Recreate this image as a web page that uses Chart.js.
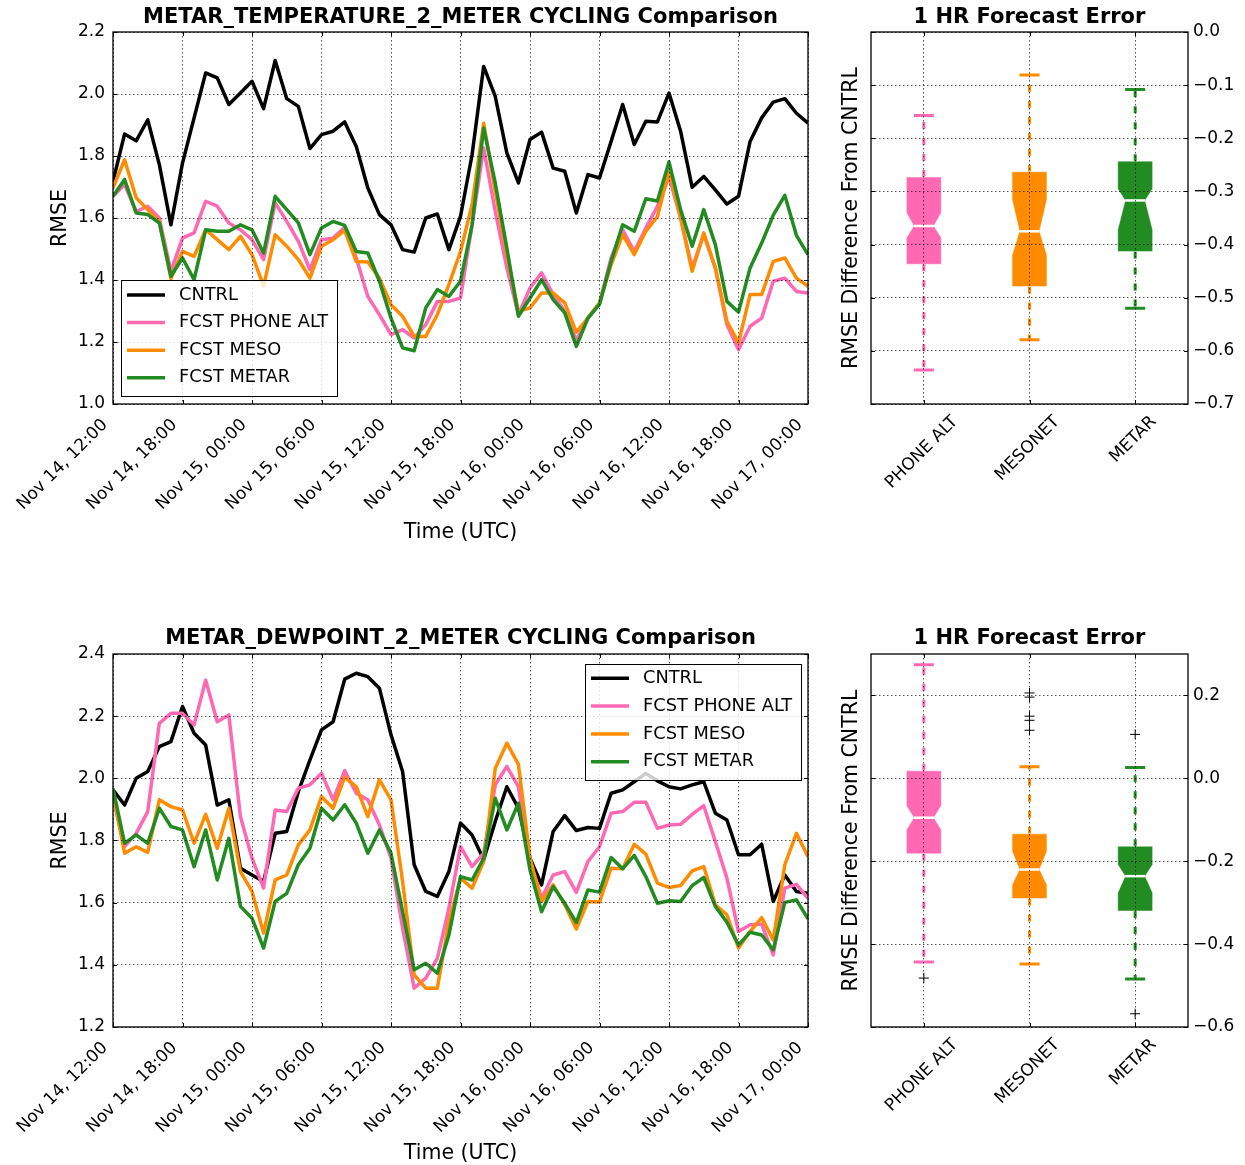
<!DOCTYPE html>
<html>
<head>
<meta charset="utf-8">
<title>METAR 2 m cycling comparison</title>
<script src="https://cdn.jsdelivr.net/npm/chart.js@4.4.1/dist/chart.umd.min.js"></script>
<style>
  html, body { margin: 0; padding: 0; background: #fff; }
  #page { position: relative; width: 1245px; height: 1165px; background: #fff; overflow: hidden; }
  canvas { position: absolute; }
</style>
</head>
<body>
<div id="page">
  <canvas id="tempLine" width="840" height="560" style="left:0;top:0"></canvas>
  <canvas id="tempBox" width="415" height="560" style="left:830px;top:0"></canvas>
  <canvas id="dewLine" width="840" height="550" style="left:0;top:620px"></canvas>
  <canvas id="dewBox" width="415" height="545" style="left:830px;top:620px"></canvas>
</div>
<script>
// ---------------------------------------------------------------------------
// Data
// ---------------------------------------------------------------------------
// Hours after Nov 14, 12:00 UTC (one analysis cycle per hour)
const hours = [
   0,  1,  2,  3,  4,  5,  6,  7,  8,  9,
  10, 11, 12, 13, 14, 15, 16, 17, 18, 19,
  20, 21, 22, 23, 24, 25, 26, 27, 28, 29,
  30, 31, 32, 33, 34, 35, 36, 37, 38, 39,
  40, 41, 42, 43, 44, 45, 46, 47, 48, 49,
  50, 51, 52, 53, 54, 55, 56, 57, 58, 59,
  60
];
const timeTicks = [0, 6, 12, 18, 24, 30, 36, 42, 48, 54, 60];
const timeTickLabels = [
  'Nov 14, 12:00', 'Nov 14, 18:00', 'Nov 15, 00:00', 'Nov 15, 06:00',
  'Nov 15, 12:00', 'Nov 15, 18:00', 'Nov 16, 00:00', 'Nov 16, 06:00',
  'Nov 16, 12:00', 'Nov 16, 18:00', 'Nov 17, 00:00'
];
const seriesNames = ['CNTRL', 'FCST PHONE ALT', 'FCST MESO', 'FCST METAR'];

// 2 m temperature RMSE
const tempCntrl = [
  1.718, 1.871, 1.849, 1.917, 1.772, 1.578, 1.777, 1.923, 2.068, 2.052,
  1.966, 2.003, 2.041, 1.953, 2.108, 1.985, 1.960, 1.824, 1.869, 1.880,
  1.910, 1.831, 1.697, 1.611, 1.578, 1.498, 1.490, 1.600, 1.613, 1.498,
  1.605, 1.804, 2.089, 1.992, 1.810, 1.713, 1.853, 1.877, 1.761, 1.751,
  1.616, 1.740, 1.729, 1.847, 1.966, 1.837, 1.912, 1.910, 2.003, 1.880,
  1.699, 1.734, 1.691, 1.645, 1.670, 1.847, 1.923, 1.974, 1.985, 1.938,
  1.906
];
const tempPhoneAlt = [
  1.670, 1.708, 1.621, 1.638, 1.600, 1.428, 1.535, 1.552, 1.654, 1.638,
  1.584, 1.562, 1.530, 1.466, 1.649, 1.589, 1.525, 1.433, 1.530, 1.535,
  1.570, 1.471, 1.347, 1.288, 1.224, 1.240, 1.213, 1.256, 1.331, 1.331,
  1.342, 1.578, 1.826, 1.621, 1.439, 1.288, 1.374, 1.423, 1.353, 1.299,
  1.206, 1.277, 1.326, 1.471, 1.562, 1.492, 1.568, 1.638, 1.734, 1.600,
  1.439, 1.546, 1.439, 1.256, 1.175, 1.251, 1.277, 1.396, 1.406, 1.363,
  1.358
];
const tempMeso = [
  1.697, 1.788, 1.665, 1.627, 1.589, 1.405, 1.492, 1.476, 1.562, 1.530,
  1.498, 1.541, 1.482, 1.380, 1.546, 1.509, 1.466, 1.406, 1.509, 1.530,
  1.560, 1.460, 1.458, 1.406, 1.320, 1.283, 1.218, 1.218, 1.288, 1.385,
  1.492, 1.643, 1.906, 1.686, 1.482, 1.299, 1.310, 1.358, 1.358, 1.326,
  1.232, 1.277, 1.326, 1.449, 1.546, 1.482, 1.557, 1.605, 1.751, 1.600,
  1.428, 1.552, 1.439, 1.267, 1.197, 1.353, 1.353, 1.460, 1.471, 1.406,
  1.380
];
const tempMetar = [
  1.670, 1.724, 1.616, 1.611, 1.584, 1.412, 1.471, 1.401, 1.562, 1.557,
  1.557, 1.578, 1.562, 1.487, 1.670, 1.627, 1.584, 1.482, 1.568, 1.589,
  1.576, 1.492, 1.487, 1.396, 1.277, 1.181, 1.172, 1.310, 1.369, 1.347,
  1.396, 1.578, 1.890, 1.713, 1.503, 1.283, 1.342, 1.401, 1.337, 1.294,
  1.186, 1.277, 1.321, 1.460, 1.578, 1.557, 1.662, 1.655, 1.781, 1.627,
  1.509, 1.627, 1.514, 1.331, 1.297, 1.439, 1.519, 1.609, 1.673, 1.544,
  1.482
];

// 2 m dewpoint RMSE
const dewCntrl = [
  1.963, 1.914, 2.000, 2.022, 2.102, 2.118, 2.231, 2.145, 2.107, 1.914,
  1.931, 1.711, 1.689, 1.668, 1.823, 1.829, 1.957, 2.059, 2.156, 2.182,
  2.319, 2.338, 2.327, 2.290, 2.140, 2.022, 1.722, 1.636, 1.620, 1.700,
  1.856, 1.818, 1.738, 1.861, 1.973, 1.904, 1.743, 1.657, 1.829, 1.880,
  1.832, 1.842, 1.839, 1.952, 1.963, 1.989, 2.016, 1.992, 1.973, 1.966,
  1.979, 1.989, 1.888, 1.866, 1.754, 1.754, 1.788, 1.604, 1.689, 1.636,
  1.630
];
const dewPhoneAlt = [
  1.936, 1.780, 1.823, 1.893, 2.177, 2.209, 2.209, 2.172, 2.316, 2.182,
  2.204, 1.877, 1.743, 1.647, 1.898, 1.893, 1.968, 1.979, 2.016, 1.931,
  2.025, 1.952, 1.931, 1.850, 1.743, 1.518, 1.325, 1.357, 1.421, 1.582,
  1.780, 1.716, 1.759, 1.979, 2.038, 1.973, 1.732, 1.614, 1.689, 1.700,
  1.633, 1.732, 1.780, 1.888, 1.893, 1.923, 1.923, 1.839, 1.850, 1.852,
  1.884, 1.912, 1.797, 1.679, 1.507, 1.529, 1.531, 1.432, 1.647, 1.659,
  1.614
];
const dewMeso = [
  1.952, 1.759, 1.780, 1.762, 1.931, 1.909, 1.898, 1.791, 1.884, 1.775,
  1.904, 1.700, 1.636, 1.502, 1.673, 1.689, 1.786, 1.834, 1.941, 1.904,
  2.004, 1.973, 1.877, 1.995, 1.931, 1.668, 1.368, 1.325, 1.325, 1.539,
  1.679, 1.647, 1.732, 2.032, 2.113, 2.045, 1.743, 1.604, 1.657, 1.593,
  1.515, 1.604, 1.602, 1.711, 1.709, 1.788, 1.756, 1.663, 1.649, 1.655,
  1.702, 1.716, 1.593, 1.561, 1.454, 1.507, 1.552, 1.480, 1.722, 1.823,
  1.748
];
const dewMetar = [
  1.968, 1.791, 1.818, 1.791, 1.904, 1.845, 1.834, 1.716, 1.834, 1.673,
  1.807, 1.588, 1.550, 1.454, 1.604, 1.630, 1.722, 1.775, 1.904, 1.866,
  1.915, 1.856, 1.759, 1.834, 1.759, 1.571, 1.384, 1.405, 1.373, 1.496,
  1.684, 1.673, 1.743, 1.936, 1.834, 1.920, 1.705, 1.571, 1.652, 1.598,
  1.536, 1.641, 1.634, 1.745, 1.709, 1.752, 1.684, 1.598, 1.606, 1.604,
  1.655, 1.681, 1.588, 1.537, 1.464, 1.505, 1.496, 1.448, 1.601, 1.609,
  1.548
];

const tempRmseTicks = [1.0, 1.2, 1.4, 1.6, 1.8, 2.0, 2.2];
const dewRmseTicks = [1.2, 1.4, 1.6, 1.8, 2.0, 2.2, 2.4];

// 1 h forecast RMSE difference from CNTRL, summarised per observation network
const boxCategories = ['PHONE ALT', 'MESONET', 'METAR'];

const tempWhiskerLow  = [-0.636, -0.579, -0.520];
const tempQ1          = [-0.437, -0.479, -0.413];
const tempNotchLow    = [-0.387, -0.420, -0.372];
const tempMedian      = [-0.365, -0.375, -0.317];
const tempNotchHigh   = [-0.340, -0.315, -0.295];
const tempQ3          = [-0.273, -0.263, -0.243];
const tempWhiskerHigh = [-0.157, -0.081, -0.108];
const tempOutliers    = [[], [], []];

const dewWhiskerLow  = [-0.443, -0.448, -0.484];
const dewQ1          = [-0.182, -0.290, -0.320];
const dewNotchLow    = [-0.124, -0.257, -0.276];
const dewMedian      = [-0.095, -0.220, -0.236];
const dewNotchHigh   = [-0.066, -0.176, -0.208];
const dewQ3          = [ 0.018, -0.134, -0.164];
const dewWhiskerHigh = [ 0.274,  0.028,  0.026];
const dewOutliers    = [[-0.482], [0.206, 0.196, 0.150, 0.140, 0.116], [0.106, -0.568]];

const tempDiffTicks = [-0.7, -0.6, -0.5, -0.4, -0.3, -0.2, -0.1, 0.0];
const dewDiffTicks = [-0.6, -0.4, -0.2, 0.0, 0.2];

// ---------------------------------------------------------------------------
// Styling
// ---------------------------------------------------------------------------
const FONT = "'DejaVu Sans', 'Liberation Sans', sans-serif";
const seriesColors = ['#000000', '#ff69b4', '#ff8c00', '#228b22'];
const boxColors = ['#ff69b4', '#ff8c00', '#228b22'];

Chart.defaults.font.family = FONT;
Chart.defaults.font.size = 17;
Chart.defaults.color = '#000';

const gridStyle = { color: 'rgba(0,0,0,0.65)', lineWidth: 1, drawTicks: false, z: 1 };
const gridBorder = { display: false, dash: [1.5, 2.5] };
const signed = v => (v < 0 && Math.abs(v) > 1e-9 ? '\u2212' : '') + Math.abs(v).toFixed(1);

// ---------------------------------------------------------------------------
// Plugins
// ---------------------------------------------------------------------------
// Closed axes frame with short inward tick marks on all four sides
const axesFrame = {
  id: 'axesFrame',
  afterDraw(chart, args, opts) {
    const { ctx, chartArea: a } = chart;
    const xs = chart.scales.x, ys = chart.scales.y;
    const len = opts.tickLength || 4;
    ctx.save();
    ctx.strokeStyle = '#000';
    ctx.lineWidth = 1;
    ctx.beginPath();
    xs.ticks.forEach(t => {
      const p = Math.round(xs.getPixelForValue(t.value)) + 0.5;
      ctx.moveTo(p, a.bottom); ctx.lineTo(p, a.bottom - len);
      ctx.moveTo(p, a.top); ctx.lineTo(p, a.top + len);
    });
    ys.ticks.forEach(t => {
      const p = Math.round(ys.getPixelForValue(t.value)) + 0.5;
      ctx.moveTo(a.left, p); ctx.lineTo(a.left + len, p);
      ctx.moveTo(a.right, p); ctx.lineTo(a.right - len, p);
    });
    ctx.stroke();
    ctx.lineWidth = 1.3;
    ctx.strokeRect(a.left, a.top, a.right - a.left, a.bottom - a.top);
    ctx.restore();
  }
};

// Legend box drawn inside the plotting area
const insetLegend = {
  id: 'insetLegend',
  afterDraw(chart, args, o) {
    if (!o || !o.display) return;
    const { ctx, chartArea: a } = chart;
    const left = o.anchor === 'bottom-left' ? a.left + o.offsetX : a.right - o.offsetX - o.width;
    const top = o.anchor === 'bottom-left' ? a.bottom - o.offsetY - o.height : a.top + o.offsetY;
    ctx.save();
    ctx.fillStyle = 'rgba(255,255,255,0.8)';
    ctx.fillRect(left, top, o.width, o.height);
    ctx.strokeStyle = '#000';
    ctx.lineWidth = 1;
    ctx.strokeRect(Math.round(left) + 0.5, Math.round(top) + 0.5, o.width, o.height);
    ctx.font = o.fontSize + 'px ' + FONT;
    ctx.textAlign = 'left';
    ctx.textBaseline = 'middle';
    chart.data.datasets.forEach((ds, i) => {
      const y = top + o.firstRow + i * o.rowGap;
      ctx.strokeStyle = ds.borderColor;
      ctx.lineWidth = ds.borderWidth;
      ctx.beginPath();
      ctx.moveTo(left + o.lineStart, y);
      ctx.lineTo(left + o.lineEnd, y);
      ctx.stroke();
      ctx.fillStyle = '#000';
      ctx.fillText(ds.label, left + o.textStart, y);
    });
    ctx.restore();
  }
};

// Notched box-and-whisker glyphs placed on the chart's own x / y scales
const notchedBoxes = {
  id: 'notchedBoxes',
  afterDatasetsDraw(chart, args, o) {
    const { ctx, chartArea: a } = chart;
    const xs = chart.scales.x, ys = chart.scales.y;
    const s = o.stats;
    const Y = v => ys.getPixelForValue(v);
    ctx.save();
    ctx.beginPath();
    ctx.rect(a.left, a.top, a.right - a.left, a.bottom - a.top);
    ctx.clip();
    s.median.forEach((med, i) => {
      const pos = i + 1;
      const cx = xs.getPixelForValue(pos);
      const half = xs.getPixelForValue(pos + o.boxWidth / 2) - cx;
      const capHalf = xs.getPixelForValue(pos + o.capWidth / 2) - cx;
      const color = o.colors[i];

      // whiskers
      ctx.strokeStyle = color;
      ctx.lineWidth = o.whiskerWidth;
      ctx.setLineDash(o.whiskerDash);
      ctx.beginPath();
      ctx.moveTo(cx, Y(s.q3[i])); ctx.lineTo(cx, Y(s.whiskerHigh[i]));
      ctx.moveTo(cx, Y(s.q1[i])); ctx.lineTo(cx, Y(s.whiskerLow[i]));
      ctx.stroke();
      ctx.setLineDash([]);

      // caps
      ctx.beginPath();
      ctx.moveTo(cx - capHalf, Y(s.whiskerHigh[i])); ctx.lineTo(cx + capHalf, Y(s.whiskerHigh[i]));
      ctx.moveTo(cx - capHalf, Y(s.whiskerLow[i])); ctx.lineTo(cx + capHalf, Y(s.whiskerLow[i]));
      ctx.stroke();

      // notched box
      ctx.beginPath();
      ctx.moveTo(cx - half, Y(s.q1[i]));
      ctx.lineTo(cx + half, Y(s.q1[i]));
      ctx.lineTo(cx + half, Y(s.notchLow[i]));
      ctx.lineTo(cx + capHalf, Y(med));
      ctx.lineTo(cx + half, Y(s.notchHigh[i]));
      ctx.lineTo(cx + half, Y(s.q3[i]));
      ctx.lineTo(cx - half, Y(s.q3[i]));
      ctx.lineTo(cx - half, Y(s.notchHigh[i]));
      ctx.lineTo(cx - capHalf, Y(med));
      ctx.lineTo(cx - half, Y(s.notchLow[i]));
      ctx.closePath();
      ctx.fillStyle = color;
      ctx.fill();
      ctx.strokeStyle = 'rgba(255,255,255,0.45)';
      ctx.lineWidth = 1;
      ctx.stroke();

      // median
      ctx.strokeStyle = '#ffffff';
      ctx.lineWidth = o.medianWidth;
      ctx.beginPath();
      ctx.moveTo(cx - capHalf, Y(med));
      ctx.lineTo(cx + capHalf, Y(med));
      ctx.stroke();
    });
    ctx.restore();
  }
};

// Category names under the box plots, slanted 45 degrees and centred on their tick
const slantedCategoryLabels = {
  id: 'slantedCategoryLabels',
  afterDraw(chart, args, o) {
    const { ctx, chartArea: a } = chart;
    const xs = chart.scales.x;
    const r = Math.PI / 4;
    ctx.save();
    ctx.font = o.fontSize + 'px ' + FONT;
    ctx.fillStyle = '#000';
    ctx.textAlign = 'center';
    ctx.textBaseline = 'middle';
    chart.data.labels.forEach((label, i) => {
      const w = ctx.measureText(label).width;
      const extent = (w + o.fontSize) * Math.sin(r);
      const cx = xs.getPixelForValue(i + 1) + o.shiftX;
      const cy = a.bottom + o.padding + extent / 2;
      ctx.save();
      ctx.translate(cx, cy);
      ctx.rotate(-r);
      ctx.fillText(label, 0, 0);
      ctx.restore();
    });
    ctx.restore();
  }
};

// ---------------------------------------------------------------------------
// Chart builders
// ---------------------------------------------------------------------------
function lineChart(id, titleText, series, yTicks, layout, legend) {
  const datasets = series.map((values, i) => ({
    label: seriesNames[i],
    data: hours.map((h, k) => ({ x: h, y: values[k] })),
    borderColor: seriesColors[i],
    backgroundColor: seriesColors[i],
    borderWidth: 3.5,
    borderJoinStyle: 'round',
    pointRadius: 0,
    tension: 0,
    fill: false,
    order: series.length - 1 - i,
    xAxisID: 'x',
    yAxisID: 'y'
  }));
  return new Chart(document.getElementById(id), {
    type: 'line',
    data: { datasets },
    options: {
      responsive: false,
      animation: false,
      devicePixelRatio: 1,
      events: [],
      layout: { padding: 0 },
      plugins: {
        legend: { display: false },
        tooltip: { enabled: false },
        title: {
          display: true, text: titleText, fullSize: false, color: '#000',
          font: { size: 21, weight: 'bold' },
          padding: layout.titlePadding
        },
        insetLegend: legend,
        axesFrame: { tickLength: 4 }
      },
      scales: {
        x: {
          type: 'linear', min: timeTicks[0], max: timeTicks[timeTicks.length - 1],
          afterBuildTicks: s => { s.ticks = timeTicks.map(v => ({ value: v })); },
          ticks: {
            autoSkip: false, minRotation: 45, maxRotation: 45, padding: 11,
            labelOffset: layout.tickShift,
            font: { size: 17 }, color: '#000',
            callback: (v, i) => timeTickLabels[i]
          },
          grid: gridStyle, border: gridBorder,
          title: {
            display: true, text: 'Time (UTC)', color: '#000',
            font: { size: 20.5 }, padding: { top: 0, bottom: layout.xTitleBottom }
          },
          afterFit: s => { s.height = layout.xHeight; }
        },
        y: {
          type: 'linear', position: 'left',
          min: yTicks[0], max: yTicks[yTicks.length - 1],
          afterBuildTicks: s => { s.ticks = yTicks.map(v => ({ value: v })); },
          ticks: { padding: 8, font: { size: 17 }, color: '#000', callback: v => v.toFixed(1) },
          grid: gridStyle, border: gridBorder,
          title: {
            display: true, text: 'RMSE', color: '#000',
            font: { size: 20.5 }, padding: { top: 48.5, bottom: 0 }
          },
          afterFit: s => { s.width = 113; }
        },
        rightGap: {
          type: 'linear', position: 'right', display: true,
          grid: { display: false }, ticks: { display: false }, border: { display: false },
          afterFit: s => { s.width = layout.rightGap; }
        }
      }
    },
    plugins: [axesFrame, insetLegend]
  });
}

function boxChart(id, stats, outliers, yTicks, yMax, layout) {
  const outlierPoints = [];
  outliers.forEach((list, i) => list.forEach(v => outlierPoints.push({ x: i + 1, y: v })));
  return new Chart(document.getElementById(id), {
    type: 'scatter',
    data: {
      labels: boxCategories,
      datasets: [{
        label: 'outliers', data: outlierPoints,
        pointStyle: 'cross', pointRadius: 5, borderWidth: 1,
        borderColor: '#000', backgroundColor: '#000',
        xAxisID: 'x', yAxisID: 'y'
      }]
    },
    options: {
      responsive: false,
      animation: false,
      devicePixelRatio: 1,
      events: [],
      layout: { padding: 0 },
      plugins: {
        legend: { display: false },
        tooltip: { enabled: false },
        title: {
          display: true, text: '1 HR Forecast Error', fullSize: false, color: '#000',
          font: { size: 21, weight: 'bold' },
          padding: layout.titlePadding
        },
        notchedBoxes: {
          stats, colors: boxColors, boxWidth: 0.33, capWidth: 0.19,
          whiskerWidth: 3, whiskerDash: [7, 9], medianWidth: 2.5
        },
        slantedCategoryLabels: { fontSize: 17, padding: 9, shiftX: -2 },
        axesFrame: { tickLength: 4 }
      },
      scales: {
        x: {
          type: 'linear', min: 0.5, max: boxCategories.length + 0.5,
          afterBuildTicks: s => { s.ticks = boxCategories.map((c, i) => ({ value: i + 1 })); },
          ticks: { display: false },
          grid: gridStyle, border: gridBorder,
          afterFit: s => { s.height = layout.xHeight; }
        },
        y: {
          type: 'linear', position: 'right',
          min: yTicks[0], max: yMax,
          afterBuildTicks: s => { s.ticks = yTicks.map(v => ({ value: v })); },
          ticks: { padding: 5, font: { size: 17 }, color: '#000', callback: signed },
          grid: gridStyle, border: gridBorder,
          afterFit: s => { s.width = 57; }
        },
        yTitle: {
          type: 'linear', position: 'left', display: true,
          grid: { display: false }, ticks: { display: false }, border: { display: false },
          title: {
            display: true, text: 'RMSE Difference From CNTRL', color: '#000',
            font: { size: 20.5 }, padding: { top: 9.5, bottom: 0 }
          },
          afterFit: s => { s.width = 41; }
        }
      }
    },
    plugins: [notchedBoxes, axesFrame, slantedCategoryLabels]
  });
}

// ---------------------------------------------------------------------------
// Panels
// ---------------------------------------------------------------------------
lineChart('tempLine', 'METAR_TEMPERATURE_2_METER CYCLING Comparison',
  [tempCntrl, tempPhoneAlt, tempMeso, tempMetar], tempRmseTicks,
  { titlePadding: { top: 5, bottom: 1.8 }, xHeight: 156, xTitleBottom: 14.7, rightGap: 32, tickShift: -8 },
  { display: true, anchor: 'bottom-left', offsetX: 8, offsetY: 8, width: 216, height: 116,
    firstRow: 15, rowGap: 27.6, lineStart: 6, lineEnd: 44, textStart: 58, fontSize: 17.8 });

lineChart('dewLine', 'METAR_DEWPOINT_2_METER CYCLING Comparison',
  [dewCntrl, dewPhoneAlt, dewMeso, dewMetar], dewRmseTicks,
  { titlePadding: { top: 6.4, bottom: 2.4 }, xHeight: 143, xTitleBottom: 3.7, rightGap: 32, tickShift: -8 },
  { display: true, anchor: 'top-right', offsetX: 7, offsetY: 10, width: 216, height: 116,
    firstRow: 14.3, rowGap: 27.8, lineStart: 6, lineEnd: 44, textStart: 58, fontSize: 17.8 });

boxChart('tempBox',
  { whiskerLow: tempWhiskerLow, q1: tempQ1, notchLow: tempNotchLow, median: tempMedian,
    notchHigh: tempNotchHigh, q3: tempQ3, whiskerHigh: tempWhiskerHigh },
  tempOutliers, tempDiffTicks, 0.0,
  { titlePadding: { top: 5, bottom: 1.8 }, xHeight: 156 });

boxChart('dewBox',
  { whiskerLow: dewWhiskerLow, q1: dewQ1, notchLow: dewNotchLow, median: dewMedian,
    notchHigh: dewNotchHigh, q3: dewQ3, whiskerHigh: dewWhiskerHigh },
  dewOutliers, dewDiffTicks, 0.3,
  { titlePadding: { top: 6.4, bottom: 2.4 }, xHeight: 138 });
</script>
</body>
</html>
